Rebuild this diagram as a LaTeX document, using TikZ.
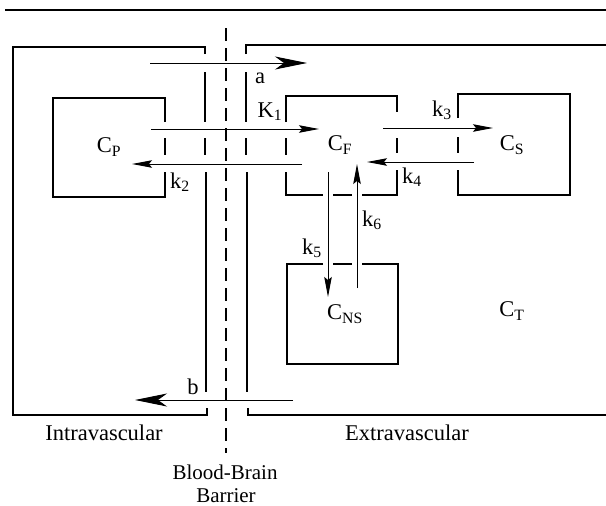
\documentclass[tikz,border=0pt]{standalone}
\usepackage{fontspec}
\setmainfont{Liberation Serif}
\usetikzlibrary{arrows.meta}
\begin{document}
\begin{tikzpicture}[x=1pt,y=-1pt,
  wall/.style={line width=1.25pt},
  flow/.style={line width=1pt,-{Stealth[length=20pt,width=7.5pt,inset=3pt]}},
  bigflow/.style={line width=1pt,-{Stealth[length=32pt,width=13pt,inset=9pt]}},
  lbl/.style={inner sep=0pt,font=\fontsize{22.5}{24}\selectfont},
  barrier/.style={line width=2.8pt,dash pattern=on 13pt off 7pt}]
\useasboundingbox (0,0) rectangle (606,506);
% top rule
\draw[line width=1.5pt] (5,10) -- (606,10);
% blood-brain barrier
\coordinate (bbbTop) at (226,28);
\coordinate (bbbBot) at (226,453);
\draw[barrier] (bbbTop) -- (bbbBot);
% intravascular compartment
\draw[wall] (205,54) -- (205,47) -- (13,47) -- (13,415) -- (207,415) -- (207,408);
\draw[wall] (205,72) -- (205,122) (205,138) -- (205,155) (206,172) -- (206,392);
% extravascular compartment
\draw[wall] (246,54) -- (246,45) -- (606,45);
\draw[wall] (248,408) -- (248,415) -- (606,415);
\draw[wall] (246,72) -- (246,122) (246,138) -- (246,155) (247,172) -- (247,392);
% C_P box
\draw[wall] (165,122) -- (165,98) -- (53,98) -- (53,197) -- (165,197) -- (165,172);
\draw[wall] (165,138) -- (165,155);
% C_F box
\draw[wall] (286,122) -- (286,96) -- (397,96) -- (397,112);
\draw[wall] (286,138) -- (286,155) (397,138) -- (397,153);
\draw[wall] (286,172) -- (286,195) -- (323,195) (333,195) -- (352,195) (362,195) -- (397,195) -- (397,170);
% C_S box
\draw[wall] (458,118) -- (458,94) -- (570,94) -- (570,195) -- (458,195) -- (458,170);
\draw[wall] (458,137) -- (458,153);
% C_NS box
\draw[wall] (323,264) -- (287,264) -- (287,364) -- (398,364) -- (398,264) -- (362,264);
\draw[wall] (333,264) -- (352,264);
% compartment labels
\node[lbl] (CP) at (109,147) {C\textsubscript{P}};
\node[lbl] (CF) at (340,145) {C\textsubscript{F}};
\node[lbl] (CS) at (512,145) {C\textsubscript{S}};
\node[lbl] (CNS) at (345,314) {C\textsubscript{NS}};
\node[lbl] (CT) at (512,311) {C\textsubscript{T}};
% arrow end points
\coordinate (aS) at (150,63);  \coordinate (aE) at (307,63);
\coordinate (K1S) at (151,129); \coordinate (K1E) at (319,129);
\coordinate (k2S) at (302,164); \coordinate (k2E) at (132,164);
\coordinate (k3S) at (383,128); \coordinate (k3E) at (493,128);
\coordinate (k4S) at (474,162); \coordinate (k4E) at (367,162);
\coordinate (k5S) at (328,172); \coordinate (k5E) at (328,297);
\coordinate (k6S) at (357,288); \coordinate (k6E) at (357,164);
\coordinate (bS) at (293,400);  \coordinate (bE) at (135,400);
% arrows
\draw[bigflow] (aS) -- (aE);
\draw[flow] (K1S) -- (K1E);
\draw[flow] (k2S) -- (k2E);
\draw[flow] (k3S) -- (k3E);
\draw[flow] (k4S) -- (k4E);
\draw[flow] (k5S) -- (k5E);
\draw[flow] (k6S) -- (k6E);
\draw[bigflow] (bS) -- (bE);
% rate labels
\node[lbl] (la) at (260,78) {a};
\node[lbl] (lK1) at (270,112) {K\textsubscript{1}};
\node[lbl] (lk2) at (180,182) {k\textsubscript{2}};
\node[lbl] (lk3) at (442,110) {k\textsubscript{3}};
\node[lbl] (lk4) at (412,177) {k\textsubscript{4}};
\node[lbl] (lk5) at (312,248) {k\textsubscript{5}};
\node[lbl] (lk6) at (372,220) {k\textsubscript{6}};
\node[lbl] (lb) at (193,387) {b};
% region labels
\node[lbl] (intra) at (104,433) {Intravascular};
\node[lbl] (extra) at (407,433) {Extravascular};
\node[lbl,anchor=base,font=\fontsize{21}{22}\selectfont] (bbb1) at (225,479) {Blood-Brain};
\node[lbl,anchor=base,font=\fontsize{21}{22}\selectfont] (bbb2) at (226,502) {Barrier};
\end{tikzpicture}
\end{document}
